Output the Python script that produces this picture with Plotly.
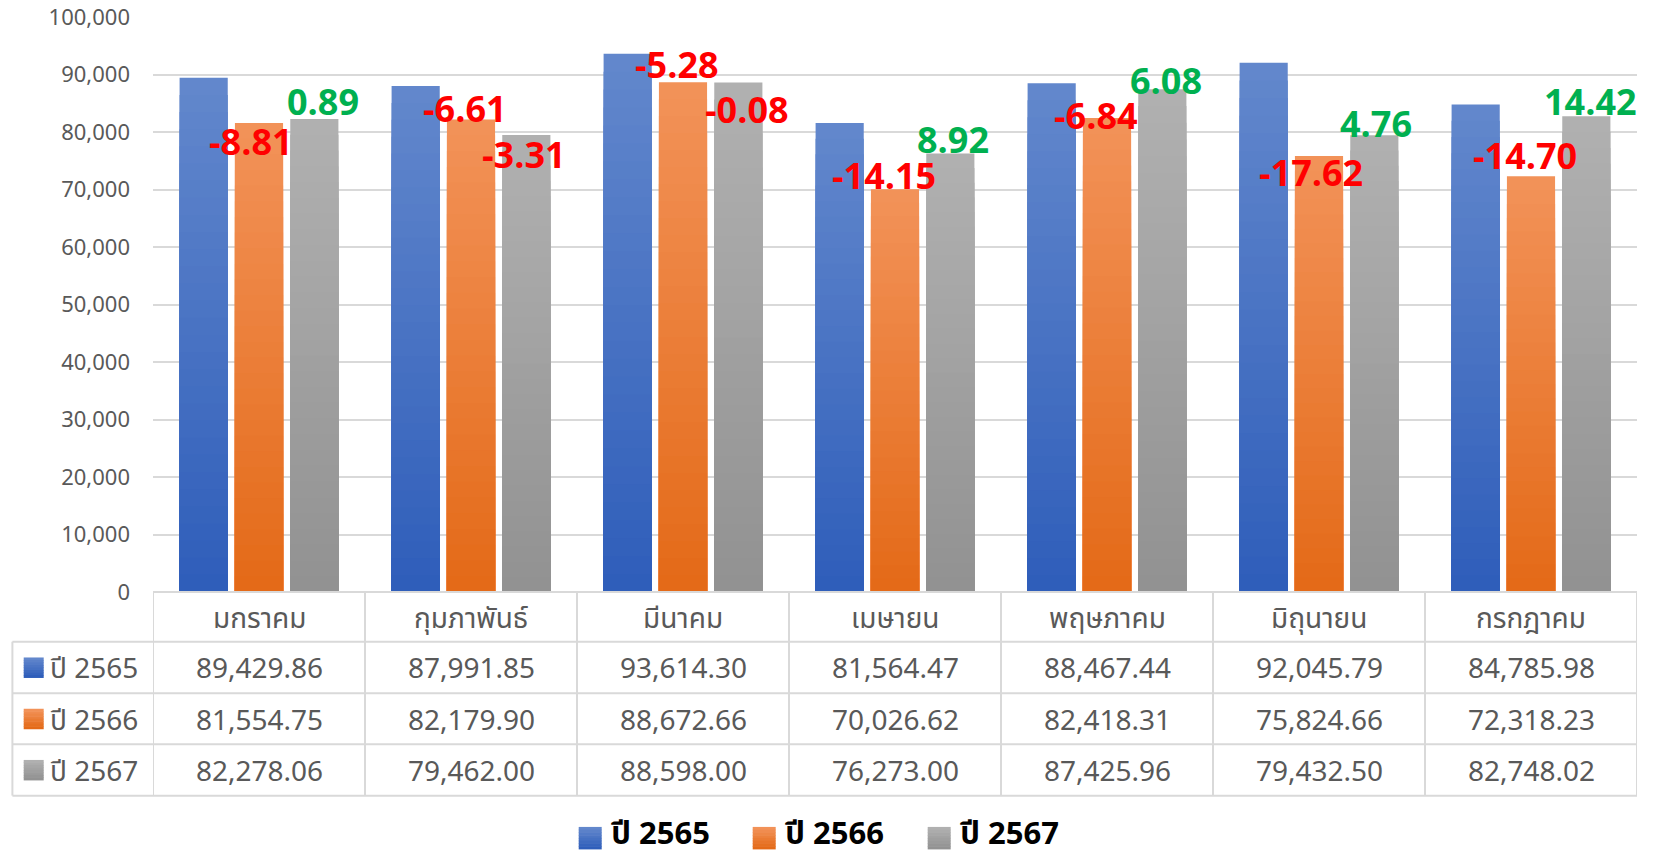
import plotly.graph_objects as go

months = ["มกราคม", "กุมภาพันธ์", "มีนาคม", "เมษายน", "พฤษภาคม", "มิถุนายน", "กรกฎาคม"]
series_names = ["ปี 2565", "ปี 2566", "ปี 2567"]
v2565 = [89429.86, 87991.85, 93614.30, 81564.47, 88467.44, 92045.79, 84785.98]
v2566 = [81554.75, 82179.90, 88672.66, 70026.62, 82418.31, 75824.66, 72318.23]
v2567 = [82278.06, 79462.00, 88598.00, 76273.00, 87425.96, 79432.50, 82748.02]
pct2566 = [-8.81, -6.61, -5.28, -14.15, -6.84, -17.62, -14.70]
pct2567 = [0.89, -3.31, -0.08, 8.92, 6.08, 4.76, 14.42]
y_ticks = [0, 10000, 20000, 30000, 40000, 50000, 60000, 70000, 80000, 90000, 100000]

# label placement (offsets from bar top, in data units / category units)
off2566_y = [-3200, 1900, 3000, 2350, 500, -2800, 3650]
off2567_y = [3050, -3300, -4600, 2500, 1600, 2000, 2600]
off2566_x = [-0.04, -0.03, -0.03, -0.05, -0.05, -0.04, -0.03]
off2567_x = [0.30, 0.25, 0.30, 0.275, 0.28, 0.27, 0.28]

all_values = [v2565, v2566, v2567]
tops = [(98, 135, 204), (242, 146, 88), (176, 176, 176)]
bottoms = [(47, 94, 186), (228, 106, 24), (146, 146, 146)]

W, H = 1654, 852
L, R, T, B = 153.3, 1637.3, 16.8, 592
FONT = "Noto Sans, Noto Sans Thai, Leelawadee UI, Tahoma, sans-serif"

def py(px):
    return (B - px) / (B - T)

def pxx(px):
    return (px - L) / (R - L)

def lerp(c1, c2, t):
    return "rgb(%d,%d,%d)" % tuple(round(a + (b - a) * t) for a, b in zip(c1, c2))

fig = go.Figure()
N = 30
xs = list(range(len(months)))
for s, vals in enumerate(all_values):
    for i in range(N):
        t = i / (N - 1)
        frac = 1 - i / N
        fig.add_trace(go.Bar(
            x=xs, y=[v * frac for v in vals],
            name=series_names[s],
            offsetgroup=str(s),
            marker=dict(color=lerp(tops[s], bottoms[s], t), line=dict(width=0)),
            showlegend=False,
            legendgroup=str(s),
            hoverinfo="skip",
        ))

annotations = []
for vals, pct, ox, oy in ((v2566, pct2566, off2566_x, off2566_y), (v2567, pct2567, off2567_x, off2567_y)):
    for k in range(len(months)):
        col = "#ff0000" if pct[k] < 0 else "#00b050"
        annotations.append(dict(
            x=k + ox[k], y=vals[k] + oy[k], xref="x", yref="y",
            text="<b>%.2f</b>" % pct[k], showarrow=False,
            font=dict(family="Open Sans, sans-serif", size=36, color=col),
            xanchor="center", yanchor="middle",
        ))

shapes = []

def swatch(x0, x1, yc_px, size, s):
    n = 8
    for j in range(n):
        ya = yc_px - size / 2 + size * j / n
        yb = yc_px - size / 2 + size * (j + 1) / n + 0.5
        shapes.append(dict(type="rect", xref="paper", yref="paper",
                           x0=pxx(x0), x1=pxx(x1), y0=py(yb), y1=py(ya),
                           fillcolor=lerp(tops[s], bottoms[s], j / (n - 1)), line=dict(width=0)))

# table geometry (pixels)
row_edges = [592, 641.7, 693.3, 744.3, 795.7]
tbl_left = 12.7
line_col = "#d9d9d9"
shapes.append(dict(type="line", xref="paper", yref="paper", x0=0, x1=1,
                   y0=py(row_edges[0]), y1=py(row_edges[0]), line=dict(color=line_col, width=2)))
for ry in row_edges[1:]:
    shapes.append(dict(type="line", xref="paper", yref="paper", x0=pxx(tbl_left), x1=1,
                       y0=py(ry), y1=py(ry), line=dict(color=line_col, width=2)))
for k in range(len(months) + 1):
    shapes.append(dict(type="line", xref="x", yref="paper", x0=k - 0.5, x1=k - 0.5,
                       y0=py(row_edges[0]), y1=py(row_edges[-1]), line=dict(color=line_col, width=2)))
shapes.append(dict(type="line", xref="paper", yref="paper", x0=pxx(tbl_left), x1=pxx(tbl_left),
                   y0=py(row_edges[1]), y1=py(row_edges[-1]), line=dict(color=line_col, width=2)))

TXT = "#595959"
for k, m in enumerate(months):
    annotations.append(dict(x=k, y=py((row_edges[0] + row_edges[1]) / 2), xref="x", yref="paper",
                            text=m, showarrow=False, font=dict(family=FONT, size=28, color=TXT),
                            xanchor="center", yanchor="middle"))
for r, vals in enumerate(all_values):
    yc_px = (row_edges[r + 1] + row_edges[r + 2]) / 2
    yc = py(yc_px)
    swatch(24, 44, yc_px, 20, r)
    annotations.append(dict(x=pxx(48), y=yc, xref="paper", yref="paper", text=series_names[r],
                            showarrow=False, font=dict(family=FONT, size=28, color=TXT),
                            xanchor="left", yanchor="middle"))
    for k, v in enumerate(vals):
        annotations.append(dict(x=k, y=yc, xref="x", yref="paper", text=f"{v:,.2f}",
                                showarrow=False, font=dict(family=FONT, size=28, color=TXT),
                                xanchor="center", yanchor="middle"))

# bottom legend
leg_x = [579, 753, 928]
for s, lx in enumerate(leg_x):
    swatch(lx, lx + 23, 838, 22, s)
    annotations.append(dict(x=pxx(lx + 30), y=py(832), xref="paper", yref="paper",
                            text="<b>%s</b>" % series_names[s], showarrow=False,
                            font=dict(family=FONT, size=31, color="#000000"),
                            xanchor="left", yanchor="middle"))

fig.update_layout(
    width=W, height=H,
    margin=dict(l=L, r=W - R, t=T, b=H - B, autoexpand=False),
    paper_bgcolor="white", plot_bgcolor="white",
    barmode="group", bargap=0.217, bargroupgap=0.13,
    showlegend=False,
    font=dict(family=FONT, color=TXT),
    xaxis=dict(range=[-0.5, len(months) - 0.5], showticklabels=False, showgrid=False,
               zeroline=False, showline=False, ticks=""),
    yaxis=dict(range=[0, 100000], tickvals=y_ticks, tickformat=",d", showgrid=True,
               gridcolor="#d9d9d9", gridwidth=2, zeroline=False, showline=False,
               tickfont=dict(family=FONT, size=22, color=TXT), ticklabelstandoff=22),
    annotations=annotations, shapes=shapes,
)

fig.write_html("out.html", config={"displayModeBar": False},
               post_script="document.body.style.margin='0';document.body.style.overflow='hidden';")
